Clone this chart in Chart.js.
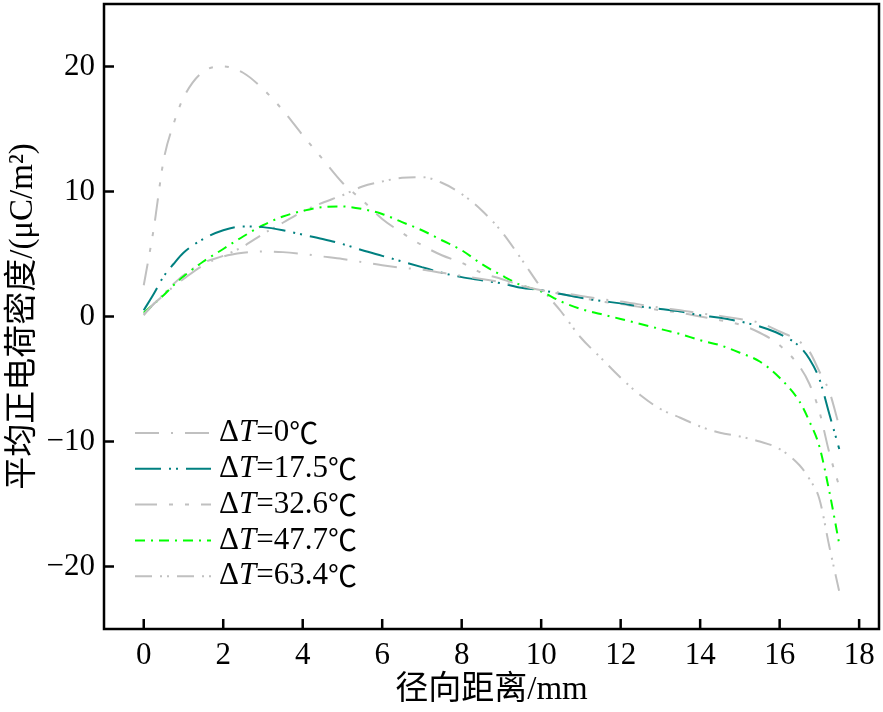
<!DOCTYPE html>
<html>
<head>
<meta charset="utf-8">
<script src="https://cdn.jsdelivr.net/npm/chart.js@4.4.1/dist/chart.umd.min.js"></script>
<style>
  body { margin: 0; background: #fff; }
  canvas { display: block; }
</style>
</head>
<body>
<canvas id="myChart" width="883" height="712"></canvas>
<script>
// radial distance, mm
var xs = [0, 0.25, 0.5, 0.75, 1, 1.5, 2, 2.5, 3, 3.5, 4, 4.5, 5, 5.5, 6, 6.5, 7, 7.5, 8, 8.5,
          9, 9.5, 10, 10.5, 11, 11.5, 12, 12.5, 13, 13.5, 14, 14.5, 15, 15.5, 16, 16.5, 16.75, 17, 17.25, 17.5];

var dT0 = [0.2, 1.0, 1.7, 2.4, 3.0, 4.1, 4.8, 5.1, 5.2, 5.15, 5.0, 4.8, 4.6, 4.35, 4.1, 3.9, 3.75, 3.5, 3.25, 3.0,
           2.75, 2.45, 2.1, 1.9, 1.65, 1.4, 1.2, 0.95, 0.7, 0.5, 0.25, 0.05, -0.2, -0.5, -1.2, -2.0, -2.8, -4.4, -6.0, -8.8];
var dT17 = [0.5, 1.8, 3.2, 4.2, 5.1, 6.2, 6.9, 7.2, 7.15, 6.9, 6.55, 6.2, 5.8, 5.3, 4.85, 4.4, 3.95, 3.5, 3.15, 2.9,
            2.65, 2.3, 2.1, 1.8, 1.5, 1.25, 1.05, 0.8, 0.6, 0.4, 0.1, -0.1, -0.4, -0.8, -1.4, -2.4, -3.4, -5.0, -7.8, -10.6];
var dT32 = [2.5, 7.0, 12.5, 15.4, 17.5, 19.6, 20.0, 19.5, 18.2, 16.5, 14.5, 12.6, 10.7, 9.3, 7.8, 6.7, 5.7, 4.9, 4.3, 3.5,
            3.0, 2.5, 2.1, 1.8, 1.5, 1.2, 1.0, 0.75, 0.5, 0.3, 0.0, -0.3, -0.65, -1.3, -2.3, -4.0, -5.4, -7.6, -10.9, -13.6];
var dT47 = [0.3, 1.0, 1.7, 2.5, 3.2, 4.4, 5.4, 6.4, 7.3, 8.0, 8.45, 8.75, 8.8, 8.6, 8.2, 7.55, 6.9, 6.1, 5.3, 4.2,
            3.3, 2.5, 2.0, 1.2, 0.6, 0.2, -0.2, -0.6, -1.0, -1.4, -1.9, -2.3, -2.9, -3.6, -4.9, -6.8, -8.4, -10.4, -14.0, -18.2];
var dT63 = [0.1, 1.0, 1.8, 2.6, 3.3, 4.3, 4.85, 5.6, 6.6, 7.5, 8.4, 9.1, 9.7, 10.4, 10.8, 11.1, 11.15, 10.7, 9.8, 8.5,
            6.8, 4.6, 2.3, 0.4, -1.7, -3.3, -4.9, -6.3, -7.4, -8.1, -8.8, -9.3, -9.6, -10.0, -10.6, -11.9, -13.0, -14.6, -18.4, -22.0];

var labels = ['0', '17.5', '32.6', '47.7', '63.4'];
var xTicks = [0, 2, 4, 6, 8, 10, 12, 14, 16, 18];
var yTicks = [-20, -10, 0, 10, 20];

var gray = '#c0c0c0';
var colors = [gray, '#008080', gray, '#00ff00', gray];
var dashes = [[24, 12, 2, 12], [26, 8, 2, 5, 2, 8], [22, 12, 4, 12, 4, 12], [10, 6, 2, 6], [17, 8, 2, 5, 2, 8]];
var series = [dT0, dT17, dT32, dT47, dT63];

var serif = '"Liberation Serif", "Noto Sans CJK SC", serif';

function pts(arr) {
  return xs.map(function(x, i) { return {x: x, y: arr[i]}; });
}

var datasets = series.map(function(s, i) {
  return {
    label: labels[i],
    data: pts(s),
    borderColor: colors[i],
    borderWidth: 2,
    borderDash: dashes[i],
    pointRadius: 0,
    fill: false,
    cubicInterpolationMode: 'monotone'
  };
});

// frame, inward ticks and legend
var framePlugin = {
  id: 'frame',
  afterDraw: function(chart) {
    var ctx = chart.ctx, a = chart.chartArea;
    var xs_ = chart.scales.x, ys_ = chart.scales.y;
    ctx.save();
    ctx.strokeStyle = '#000';
    ctx.lineWidth = 2.5;
    ctx.setLineDash([]);
    ctx.strokeRect(a.left, a.top, a.right - a.left, a.bottom - a.top);
    ctx.beginPath();
    xTicks.forEach(function(v) {
      var px = xs_.getPixelForValue(v);
      ctx.moveTo(px, a.bottom);
      ctx.lineTo(px, a.bottom - 10);
    });
    yTicks.forEach(function(v) {
      var py = ys_.getPixelForValue(v);
      ctx.moveTo(a.left, py);
      ctx.lineTo(a.left + 10, py);
    });
    ctx.stroke();

    // legend
    var x0 = a.left + 31, x1 = a.left + 107, tx = a.left + 115;
    ctx.textBaseline = 'middle';
    labels.forEach(function(lb, i) {
      var y = 433 + i * 35.8;
      ctx.strokeStyle = colors[i];
      ctx.lineWidth = 2;
      ctx.setLineDash(dashes[i]);
      ctx.beginPath();
      ctx.moveTo(x0, y);
      ctx.lineTo(x1, y);
      ctx.stroke();
      ctx.setLineDash([]);
      ctx.fillStyle = '#000';
      var x = tx;
      ctx.font = '31px ' + serif;
      ctx.fillText('\u0394', x, y);
      x += ctx.measureText('\u0394').width;
      ctx.font = 'italic 31px ' + serif;
      ctx.fillText('T', x, y);
      x += ctx.measureText('T').width;
      ctx.font = '31px ' + serif;
      ctx.fillText('=' + lb, x, y);
      x += ctx.measureText('=' + lb).width;
      ctx.font = '29px "Noto Sans CJK SC"';
      ctx.fillText('\u2103', x, y);
    });
    ctx.restore();
  }
};

var ctx = document.getElementById('myChart').getContext('2d');
var chart = new Chart(ctx, {
  type: 'line',
  data: { datasets: datasets },
  options: {
    responsive: false,
    animation: false,
    layout: { padding: { top: 4, right: 4, left: 0, bottom: 0 } },
    plugins: { legend: { display: false }, tooltip: { enabled: false } },
    scales: {
      x: {
        type: 'linear',
        min: -1,
        max: 18.5,
        afterBuildTicks: function(s) { s.ticks = xTicks.map(function(v) { return {value: v}; }); },
        afterFit: function(s) { s.height = 83; s.paddingLeft = 0; s.paddingRight = 0; },
        grid: { display: false, drawTicks: false },
        border: { display: false },
        ticks: { color: '#000', font: { family: serif, size: 31 }, padding: 8, maxRotation: 0 },
        title: { display: true, text: '径向距离/mm', color: '#000', font: { family: serif, size: 33 }, padding: { top: 0, bottom: 2 } }
      },
      y: {
        type: 'linear',
        min: -25,
        max: 25,
        afterBuildTicks: function(s) { s.ticks = yTicks.map(function(v) { return {value: v}; }); },
        afterFit: function(s) { s.width = 104; s.paddingTop = 0; s.paddingBottom = 0; },
        grid: { display: false, drawTicks: false },
        border: { display: false },
        ticks: {
          color: '#000', font: { family: serif, size: 31 }, padding: 9,
          callback: function(v) { return v < 0 ? '\u2212' + Math.abs(v) : String(v); }
        },
        title: { display: true, text: '平均正电荷密度/(μC/m²)', color: '#000', font: { family: serif, size: 33 }, padding: { top: 4, bottom: 0 } }
      }
    }
  },
  plugins: [framePlugin]
});
</script>
</body>
</html>
